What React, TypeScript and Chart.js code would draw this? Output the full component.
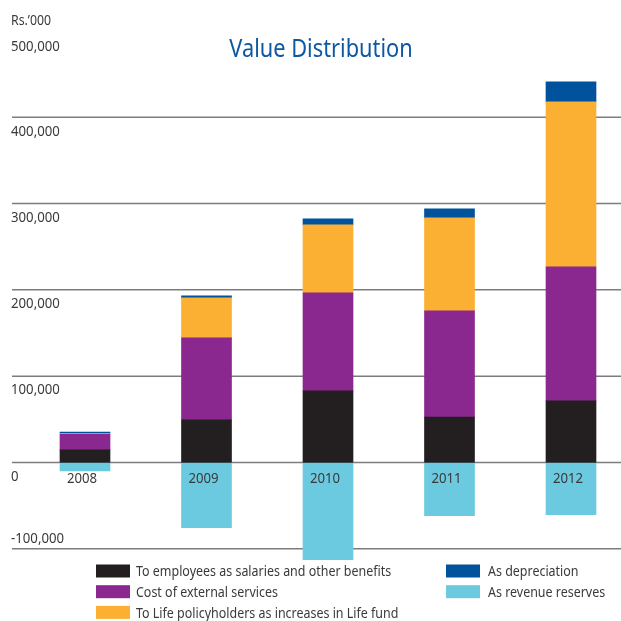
import React, { useEffect, useRef } from "react";
import { Chart, registerables } from "chart.js";

Chart.register(...registerables);

const years = ["2008", "2009", "2010", "2011", "2012"];
const employees = [14500, 49300, 82900, 52700, 71300];
const externalServices = [18500, 95000, 113600, 122900, 155300];
const lifeFund = [800, 46400, 78800, 107800, 191200];
const depreciation = [1500, 2300, 7000, 10400, 23200];
const revenueReserves = [-9800, -75600, -112600, -61700, -60500];

const tickValues = [500000, 400000, 300000, 200000, 100000, 0, -100000];
const gridValues = [400000, 300000, 200000, 100000, 0, -100000];
const unitLabel = "Rs.\u2019000";
const titleText = "Value Distribution";

const seriesNames = [
  "To employees as salaries and other benefits",
  "Cost of external services",
  "To Life policyholders as increases in Life fund",
  "As depreciation",
  "As revenue reserves",
];
const seriesColors = ["#231f20", "#8a288f", "#fbb033", "#00529c", "#6ccae0"];

const FONT = '"Noto Sans", sans-serif';
const TEXT = "#3a3a3a";

function drawText(
  ctx: CanvasRenderingContext2D,
  text: string,
  x: number,
  y: number,
  size: number,
  color: string,
  align: CanvasTextAlign,
  sx: number
) {
  ctx.save();
  ctx.translate(x, y);
  ctx.scale(sx, 1);
  ctx.font = `${size}px ${FONT}`;
  ctx.fillStyle = color;
  ctx.textAlign = align;
  ctx.textBaseline = "middle";
  ctx.fillText(text, 0, 0);
  ctx.restore();
}

const decorPlugin = {
  id: "decor",
  beforeDatasetsDraw(chart: any) {
    const ctx = chart.ctx as CanvasRenderingContext2D;
    const y = chart.scales.y;
    ctx.save();
    ctx.strokeStyle = "#7c7c7c";
    ctx.lineWidth = 1.5;
    gridValues.forEach((v) => {
      const py = y.getPixelForValue(v);
      ctx.beginPath();
      ctx.moveTo(12, py);
      ctx.lineTo(chart.width, py);
      ctx.stroke();
    });
    ctx.restore();
    drawText(ctx, unitLabel, 11, 21, 14, TEXT, "left", 0.88);
    tickValues.forEach((v) => {
      const off = v < 0 ? -10 : v === 500000 ? 16 : 14;
      const py = y.getPixelForValue(v) + off;
      drawText(ctx, v.toLocaleString("en-US"), 11, py, 15, TEXT, "left", 0.88);
    });
    drawText(ctx, titleText, 321, 50, 24.5, "#0d58a3", "center", 0.89);
  },
  afterDatasetsDraw(chart: any) {
    const ctx = chart.ctx as CanvasRenderingContext2D;
    const x = chart.scales.x;
    const y = chart.scales.y;
    const zero = y.getPixelForValue(0);
    years.forEach((yr, i) => {
      drawText(ctx, yr, x.getPixelForValue(i) - 3, zero + 16, 15, TEXT, "center", 0.88);
    });
    chart.data.datasets.forEach((ds: any, i: number) => {
      const col = i < 3 ? 0 : 1;
      const row = i < 3 ? i : i - 3;
      const bx = col === 0 ? 96 : 446;
      const tx = col === 0 ? 136 : 488;
      const cy = 571 + row * 20.7;
      ctx.fillStyle = ds.backgroundColor;
      ctx.fillRect(bx, cy - 6.5, 34, 13);
      drawText(ctx, ds.label, tx, cy + 1, 15, TEXT, "left", 0.83);
    });
  },
};

export default function App() {
  const ref = useRef<HTMLCanvasElement>(null);
  useEffect(() => {
    if (!ref.current) return;
    const series = [employees, externalServices, lifeFund, depreciation, revenueReserves];
    const chart = new Chart(ref.current, {
      type: "bar",
      data: {
        labels: years,
        datasets: series.map((d, i) => ({
          label: seriesNames[i],
          data: d,
          backgroundColor: seriesColors[i],
          borderWidth: 0,
          barThickness: 50,
          clip: false as any,
        })),
      },
      options: {
        responsive: false,
        animation: false,
        devicePixelRatio: 1,
        events: [],
        layout: { padding: { top: 31, bottom: 55, left: 85, right: 50 } },
        plugins: {
          legend: { display: false },
          title: { display: false },
          tooltip: { enabled: false },
        },
        scales: {
          x: {
            display: false,
            stacked: true,
            offset: false,
          },
          y: {
            display: false,
            stacked: true,
            min: -120000,
            max: 500000,
          },
        },
      },
      plugins: [decorPlugin],
    });
    return () => chart.destroy();
  }, []);
  return (
    <div style={{ position: "absolute", left: 0, top: 0, width: 621, height: 621, background: "#fff" }}>
      <canvas ref={ref} width={621} height={621} />
    </div>
  );
}
